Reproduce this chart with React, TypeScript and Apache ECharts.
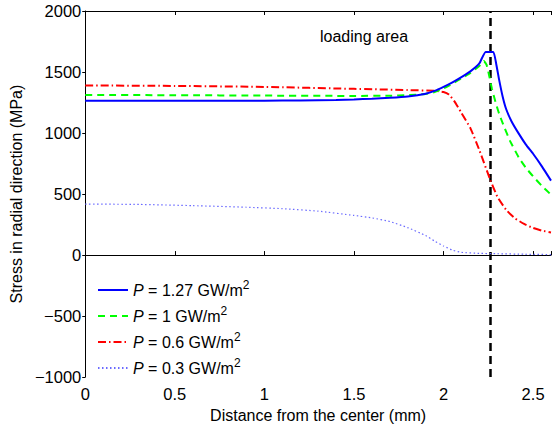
import React, { useEffect, useRef } from "react";
import * as echarts from "echarts";

const pressureLabels = ["1.27", "1", "0.6", "0.3"];
const seriesColors = ["#0000ff", "#00ff00", "#ff0000", "#6a6aff"];

const xBlue = [0, 0.5, 1.0, 1.2, 1.4, 1.5, 1.6, 1.7, 1.8, 1.9, 1.95, 2.0, 2.05, 2.1, 2.15, 2.2, 2.235, 2.278, 2.295, 2.31, 2.33, 2.35, 2.38, 2.42, 2.46, 2.5, 2.55, 2.6];
const yBlue = [1265, 1265, 1265, 1267, 1271, 1275, 1281, 1289, 1300, 1322, 1345, 1378, 1415, 1458, 1505, 1570, 1665, 1665, 1560, 1440, 1300, 1195, 1095, 995, 905, 830, 725, 610];

const xGreen = [0, 0.5, 1.0, 1.5, 1.7, 1.8, 1.9, 1.95, 2.0, 2.05, 2.1, 2.15, 2.2, 2.225, 2.24, 2.255, 2.27, 2.29, 2.31, 2.333, 2.37, 2.42, 2.46, 2.5, 2.55, 2.6];
const yGreen = [1312, 1310, 1307, 1304, 1306, 1310, 1320, 1335, 1365, 1405, 1448, 1492, 1550, 1590, 1560, 1470, 1365, 1255, 1160, 1070, 940, 800, 715, 645, 565, 495];

const xRed = [0, 0.5, 1.0, 1.5, 1.8, 1.95, 2.0, 2.03, 2.06, 2.1, 2.15, 2.2, 2.26, 2.3, 2.35, 2.4, 2.45, 2.5, 2.55, 2.6];
const yRed = [1390, 1386, 1378, 1362, 1352, 1346, 1336, 1315, 1262, 1165, 1040, 860, 620, 480, 370, 300, 255, 222, 200, 185];

const xDot = [0, 0.3, 0.6, 0.9, 1.1, 1.3, 1.5, 1.6, 1.7, 1.8, 1.9, 1.95, 2.0, 2.05, 2.1, 2.2, 2.3, 2.45, 2.6];
const yDot = [418, 415, 405, 392, 380, 360, 325, 305, 275, 225, 160, 115, 75, 40, 22, 14, 11, 7, 4];

const loadingEdge = 2.26;
const xTicks = [0, 0.5, 1, 1.5, 2, 2.5];
const yTicks = [-1000, -500, 0, 500, 1000, 1500, 2000];

const FONT = "'Liberation Sans', Arial, Helvetica, sans-serif";

function zip(xs: number[], ys: number[]) {
  return xs.map((x, i) => [x, ys[i]]);
}

export default function App() {
  const ref = useRef<HTMLDivElement>(null);
  useEffect(() => {
    if (!ref.current) return;
    const chart = echarts.init(ref.current, undefined, { renderer: "svg" });
    const names = pressureLabels.map((p) => `P = ${p} GW/m2`);
    const datasets = [zip(xBlue, yBlue), zip(xGreen, yGreen), zip(xRed, yRed), zip(xDot, yDot)];
    const dashTypes: any[] = ["solid", [7, 5], [8, 3, 1.5, 3], [1.5, 2.5]];
    const widths = [2, 2, 2, 1.2];
    const series: any[] = names.map((n, i) => ({
      name: n,
      type: "line",
      data: datasets[i],
      showSymbol: false,
      symbol: "none",
      smooth: 0.15,
      z: 10 - i,
      lineStyle: { color: seriesColors[i], width: widths[i], type: dashTypes[i] },
      itemStyle: { color: seriesColors[i] },
      markLine:
        i === 0
          ? {
              silent: true,
              symbol: "none",
              label: { show: false },
              lineStyle: { color: "#000", type: [8, 5], width: 2.5 },
              data: [{ xAxis: loadingEdge }],
            }
          : undefined,
    }));
    const xLabel = (v: number) => (xTicks.includes(v) ? String(v) : "");
    const yLabel = (v: number) => (yTicks.includes(v) ? String(v).replace("-", "\u2212") : "");
    chart.setOption({
      animation: false,
      textStyle: { fontFamily: FONT },
      grid: { left: 85, top: 11, right: 0, bottom: 44, containLabel: false },
      xAxis: [
        {
          type: "value",
          min: 0,
          max: 2.6,
          interval: 0.5,
          name: "Distance from the center (mm)",
          nameLocation: "middle",
          nameGap: 26,
          nameTextStyle: { fontSize: 16, color: "#000", fontFamily: FONT },
          axisLine: { lineStyle: { color: "#000", width: 1 } },
          axisTick: { inside: true, length: 4, lineStyle: { color: "#000" } },
          axisLabel: { fontSize: 16.5, color: "#000", margin: 8, fontFamily: FONT, formatter: xLabel },
          splitLine: { show: false },
        },
        {
          type: "value",
          position: "top",
          min: 0,
          max: 2.6,
          interval: 0.5,
          axisLine: { lineStyle: { color: "#000", width: 1 } },
          axisTick: { inside: true, length: 4, lineStyle: { color: "#000" } },
          axisLabel: { show: false },
          splitLine: { show: false },
        },
      ],
      yAxis: {
        type: "value",
        min: -1000,
        max: 2000,
        interval: 500,
        name: "Stress in radial direction (MPa)",
        nameLocation: "middle",
        nameGap: 57,
        nameTextStyle: { fontSize: 16, color: "#000", fontFamily: FONT },
        axisLine: { show: true, lineStyle: { color: "#000", width: 1 } },
        axisTick: { show: true, inside: false, length: 3, lineStyle: { color: "#000" } },
        axisLabel: { fontSize: 16.5, color: "#000", margin: 4, fontFamily: FONT, formatter: yLabel },
        splitLine: { show: false },
      },
      legend: {
        orient: "vertical",
        left: 97,
        top: 279,
        itemWidth: 30,
        itemHeight: 12,
        itemGap: 4,
        padding: 0,
        data: names,
        itemStyle: { opacity: 0, borderWidth: 0 },
        textStyle: {
          fontSize: 16,
          color: "#000",
          fontFamily: FONT,
          lineHeight: 22,
          rich: {
            p: { fontStyle: "italic", fontSize: 16, fontFamily: FONT, color: "#000", lineHeight: 22 },
            t: { fontSize: 16, fontFamily: FONT, color: "#000", lineHeight: 22 },
            s: { fontSize: 12, fontFamily: FONT, color: "#000", lineHeight: 12, verticalAlign: "top" },
          },
        },
        formatter: (name: string) => {
          const body = name.slice(1, name.length - 1);
          return `{p|P}{t|${body}}{s|2}`;
        },
      },
      graphic: [
        {
          type: "text",
          left: 320,
          top: 28,
          style: { text: "loading area", fontSize: 16, fill: "#000", fontFamily: FONT },
        },
      ],
      series,
    });
    return () => chart.dispose();
  }, []);
  return (
    <div
      ref={ref}
      style={{ position: "fixed", left: 0, top: 0, width: 554, height: 428, background: "#fff" }}
    />
  );
}
